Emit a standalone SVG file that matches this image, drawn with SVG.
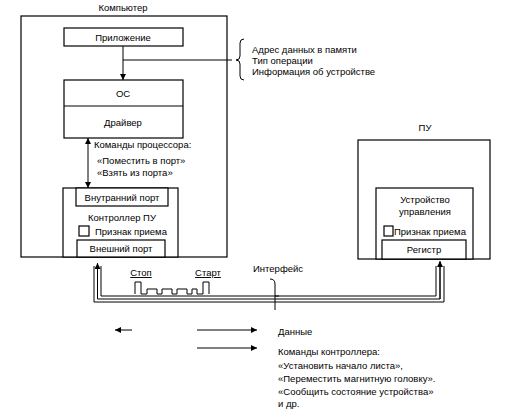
<svg xmlns="http://www.w3.org/2000/svg" width="528" height="416" viewBox="0 0 528 416">
<defs>
<marker id="ah" viewBox="0 0 10 10" refX="10" refY="5" markerWidth="6" markerHeight="6" orient="auto-start-reverse" markerUnits="userSpaceOnUse">
<path d="M0,0 L10,5 L0,10 z" fill="#000"/>
</marker>
<style>
text{font-family:"Liberation Sans",Arial,sans-serif;font-size:9.5px;fill:#000}
.c{text-anchor:middle}
.box{fill:#fff;stroke:#000;stroke-width:1.2}
.ln{fill:none;stroke:#000;stroke-width:1}
.u{text-decoration:underline}
</style>
</defs>
<rect width="528" height="416" fill="#fff"/>

<g id="computer">
<rect class="box" x="21" y="16" width="206" height="241"/>
<text class="c" x="123" y="11">Компьютер</text>
</g>

<g id="app">
<rect class="box" x="64" y="28" width="119" height="18"/>
<text class="c" x="123" y="40.5">Приложение</text>
</g>

<g id="os">
<rect class="box" x="64" y="80" width="119" height="58"/>
<line class="ln" x1="64" y1="106" x2="183" y2="106"/>
<text class="c" x="123" y="96.5">ОС</text>
<text class="c" x="123" y="125.5">Драйвер</text>
</g>

<g id="controller">
<rect class="box" x="63" y="188" width="115" height="69"/>
<rect class="box" x="76" y="188" width="92" height="18"/>
<text class="c" x="122" y="200.5">Внутранний порт</text>
<text class="c" x="122" y="220.5">Контроллер ПУ</text>
<rect class="box" x="79" y="226" width="10" height="10"/>
<text x="95" y="235">Признак приема</text>
<rect class="box" x="77" y="240" width="88" height="17"/>
<text class="c" x="121" y="251.5">Внешний порт</text>
</g>

<g id="device">
<rect class="box" x="358" y="140" width="132" height="119"/>
<text class="c" x="425" y="131">ПУ</text>
<rect class="box" x="376" y="188" width="97" height="71"/>
<text class="c" x="425" y="203">Устройство</text>
<text class="c" x="425" y="215">управления</text>
<rect class="box" x="384" y="226" width="9" height="10"/>
<text x="394" y="235">Признак приема</text>
<rect class="box" x="382" y="240" width="84" height="19"/>
<text class="c" x="424" y="252.5">Регистр</text>
</g>

<g id="notes">
<path class="ln" d="M244,39 Q240,39 240,43 L240,56 Q240,60 236,60 Q240,60 240,64 L240,76 Q240,80 244,80"/>
<text x="252" y="52.5">Адрес данных в памяти</text>
<text x="252" y="63.5">Тип операции</text>
<text x="252" y="74.5">Информация об устройстве</text>
<text x="94" y="148">Команды процессора:</text>
<text x="97" y="164">«Поместить в порт»</text>
<text x="97" y="176">«Взять из порта»</text>
</g>

<g id="signal">
<text class="c u" x="141" y="276">Стоп</text>
<text class="c u" x="208" y="276">Старт</text>
<path class="ln" d="M135,294 V282 H141 V294 H147 V289 H157 V294 H162 V289 H172 V294 H177 V289 H187 V294 H192 V289 H197 V294 H203 V282 H209 V294"/>
<text x="253" y="272">Интерфейс</text>
<path class="ln" d="M270,279 Q275,279 275,284 L275,310 M275,296 L279,296"/>
</g>

<g id="connectors">
<line class="ln" x1="123" y1="46" x2="123" y2="80" marker-end="url(#ah)"/>
<line class="ln" x1="123" y1="60" x2="232" y2="60"/>
<line class="ln" x1="88" y1="138" x2="88" y2="188" marker-start="url(#ah)" marker-end="url(#ah)"/>
<path class="ln" d="M101,266 V296 H436 V266"/>
<path class="ln" d="M97.5,299 V264 M97.5,299 H440 V262" />
<line class="ln" x1="97.5" y1="299" x2="97.5" y2="263" marker-end="url(#ah)"/>
<line class="ln" x1="440" y1="299" x2="440" y2="261" marker-end="url(#ah)"/>
<path class="ln" d="M94,266 V302 H444 V266"/>
</g>

<g id="legend">
<line class="ln" x1="132" y1="330" x2="115" y2="330" marker-end="url(#ah)"/>
<line class="ln" x1="197" y1="330" x2="257" y2="330" marker-end="url(#ah)"/>
<line class="ln" x1="197" y1="348" x2="257" y2="348" marker-end="url(#ah)"/>
<text x="278" y="335">Данные</text>
<text x="278" y="355">Команды контроллера:</text>
<text x="278" y="369">«Установить начало листа»,</text>
<text x="278" y="382">«Переместить магнитную головку».</text>
<text x="278" y="395">«Сообщить состояние устройства»</text>
<text x="278" y="407">и др.</text>
</g>
</svg>
